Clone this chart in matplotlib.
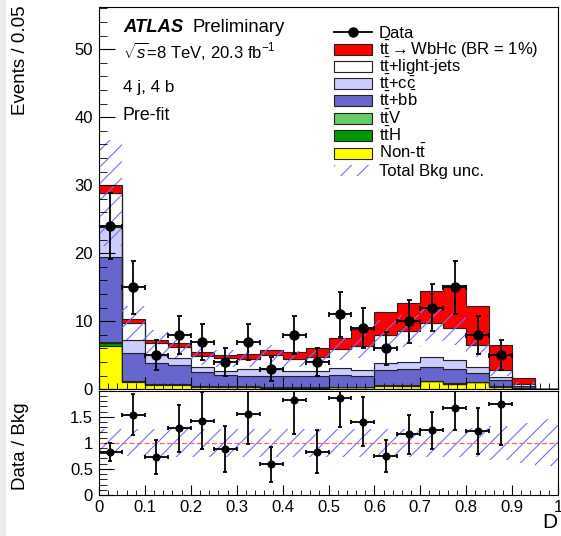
import numpy as np
import matplotlib.pyplot as plt
from matplotlib.patches import Rectangle
from matplotlib.lines import Line2D
from matplotlib.ticker import MultipleLocator

plt.rcParams['font.family'] = ['Liberation Sans', 'DejaVu Sans']
plt.rcParams['mathtext.fontset'] = 'custom'
plt.rcParams['mathtext.rm'] = 'Liberation Sans'
plt.rcParams['mathtext.it'] = 'Liberation Sans:italic'
plt.rcParams['mathtext.bf'] = 'Liberation Sans:bold'
plt.rcParams['hatch.linewidth'] = 0.8

# 20 bins of width 0.05 in D
edges = np.linspace(0, 1, 21)
data = np.array([24, 15, 5, 8, 7, 4, 7, 3, 8, 4, 11, 9, 6, 10, 12, 15, 8, 5, 0, 0])
non_tt = np.array([6.4, 1.0, 0.7, 0.7, 0.4, 0.35, 0.35, 0.25, 0.25, 0.25,
                   0.3, 0.3, 0.55, 0.5, 1.15, 0.8, 1.0, 0.4, 0.1, 0.0])
tth = np.array([0.4, 0.15, 0.08, 0.06, 0.05, 0.04, 0.04, 0.04, 0.04, 0.04,
                0.04, 0.04, 0.05, 0.05, 0.05, 0.04, 0.04, 0.02, 0.01, 0.0])
ttv = np.array([0.2, 0.1, 0.05, 0.05, 0.04, 0.03, 0.03, 0.03, 0.03, 0.03,
                0.03, 0.03, 0.04, 0.04, 0.04, 0.03, 0.03, 0.02, 0.01, 0.0])
tt_bb = np.array([12.5, 4.05, 2.97, 2.76, 2.11, 1.68, 1.54, 1.63, 1.58, 1.63,
                  1.73, 1.53, 2.16, 2.41, 1.99, 2.13, 1.38, 0.98, 0.33, 0.0])
tt_cc = np.array([4.3, 1.9, 1.2, 0.99, 0.73, 0.64, 0.98, 0.99, 0.75, 0.75,
                  0.99, 0.9, 1.02, 1.06, 1.47, 1.3, 0.85, 0.38, 0.1, 0.0])
tt_light = np.array([5.1, 2.55, 1.86, 1.71, 1.57, 1.82, 1.55, 2.16, 1.75, 2.1,
                     2.81, 3.6, 4.18, 4.54, 5.0, 4.66, 3.2, 1.07, 0.23, 0.0])
signal = np.array([1.1, 0.65, 0.45, 0.5, 0.55, 0.5, 0.7, 0.7, 1.1, 1.2,
                   1.6, 2.5, 3.3, 4.1, 4.8, 6.3, 5.75, 3.7, 0.93, 0.0])
# relative total background uncertainty per bin
rel_unc = np.array([0.27, 0.26, 0.27, 0.27, 0.27, 0.27, 0.27, 0.27, 0.27, 0.27,
                    0.27, 0.27, 0.27, 0.27, 0.27, 0.27, 0.28, 0.32, 0.38, 0.45])

components = [
    (non_tt, '#ffff00', r'Non-$\mathrm{t\bar{t}}$'),
    (tth, '#009900', r'$\mathrm{t\bar{t}H}$'),
    (ttv, '#66cc66', r'$\mathrm{t\bar{t}V}$'),
    (tt_bb, '#6666cc', r'$\mathrm{t\bar{t}{+}b\bar{b}}$'),
    (tt_cc, '#ccccff', r'$\mathrm{t\bar{t}{+}c\bar{c}}$'),
    (tt_light, '#ffffff', r'$\mathrm{t\bar{t}}$+light-jets'),
    (signal, '#ff0000', r'$\mathrm{t\bar{t}}{\rightarrow}$WbHc (BR = 1%)'),
]
hatch_col = '#7070ff'

W, H = 561, 536
fig = plt.figure(figsize=(W / 100, H / 100), dpi=100)
fig.patches.append(Rectangle((0, 0), 6 / W, 1, transform=fig.transFigure,
                             facecolor='#ebebeb', edgecolor='none', zorder=-10))


def fig_box(x0, y_top, x1, y_bot):
    return [x0 / W, 1 - y_bot / H, (x1 - x0) / W, (y_bot - y_top) / H]


ax = fig.add_axes(fig_box(99, 7, 558, 389.3))
rax = fig.add_axes(fig_box(99, 390.7, 558, 495))

# stacked predictions
bottom = np.zeros(20)
for vals, col, _ in components:
    top = bottom + vals
    ax.stairs(top, edges, baseline=bottom, fill=True, facecolor=col,
              edgecolor='#222222', linewidth=0.8)
    bottom = top

bkg = non_tt + tth + ttv + tt_bb + tt_cc + tt_light
ax.stairs(bkg * (1 + rel_unc), edges, baseline=bkg * (1 - rel_unc), fill=True,
          facecolor='none', edgecolor=hatch_col, hatch='//', linewidth=0)

centers = 0.5 * (edges[:-1] + edges[1:])
sel = data > 0
ax.errorbar(centers[sel], data[sel], yerr=np.sqrt(data[sel]), xerr=0.025,
            fmt='o', color='black', markersize=6.5, elinewidth=1.3,
            capsize=1.8, capthick=1.3, zorder=5)

ax.set_xlim(0, 1)
ax.set_ylim(0, 56.2)
ax.xaxis.set_major_locator(MultipleLocator(0.1))
ax.xaxis.set_minor_locator(MultipleLocator(0.02))
ax.yaxis.set_major_locator(MultipleLocator(10))
ax.yaxis.set_minor_locator(MultipleLocator(2))
ax.tick_params(axis='x', which='both', direction='in', labelbottom=False)
ax.tick_params(axis='x', which='major', length=9)
ax.tick_params(axis='x', which='minor', length=4.5)
ax.tick_params(axis='y', which='major', direction='in', length=11.5,
               labelsize=12, pad=4.3)
ax.tick_params(axis='y', which='minor', direction='in', length=5.8)

# ratio panel
ratio = np.where(bkg > 0, data / np.where(bkg > 0, bkg, 1), 0)
rerr = np.sqrt(data) / np.where(bkg > 0, bkg, 1)
rax.stairs(1 + rel_unc, edges, baseline=1 - rel_unc, fill=True,
           facecolor='none', edgecolor=hatch_col, hatch='//', linewidth=0)
rax.axhline(1, color='#ff6060', linestyle='--', linewidth=0.9, dashes=(4, 2))
rax.errorbar(centers[sel], ratio[sel], yerr=rerr[sel], xerr=0.025,
             fmt='o', color='black', markersize=4.8, elinewidth=1.3,
             capsize=1.5, capthick=1.3, zorder=5)
rax.set_xlim(0, 1)
rax.set_ylim(0, 2.0)
rax.set_xticks(np.arange(0, 1.01, 0.1))
rax.set_xticklabels(['0', '0.1', '0.2', '0.3', '0.4', '0.5', '0.6', '0.7',
                     '0.8', '0.9', '1'])
rax.xaxis.set_minor_locator(MultipleLocator(0.02))
rax.set_yticks([0, 0.5, 1, 1.5])
rax.set_yticklabels(['0', '0.5', '1', '1.5'])
rax.yaxis.set_minor_locator(MultipleLocator(0.1))
rax.tick_params(axis='x', which='major', direction='in', length=7,
                labelsize=12, pad=3.5)
rax.tick_params(axis='x', which='minor', direction='in', length=3.8)
rax.tick_params(axis='y', which='major', direction='in', length=11,
                labelsize=12, pad=4.3)
rax.tick_params(axis='y', which='minor', direction='in', length=5.5)

for a in (ax, rax):
    for s in a.spines.values():
        s.set_linewidth(0.8)

# axis titles
fig.text(21 / W, 1 - 5 / H, 'Events / 0.05', rotation=90, ha='center',
         va='top', fontsize=13.5)
fig.text(21 / W, 1 - 446 / H, 'Data / Bkg', rotation=90, ha='center',
         va='center', fontsize=13.5)
fig.text(557 / W, 1 - 522 / H, 'D', ha='right', va='center', fontsize=15)


def axfrac(px, py):
    return (px - 99) / 459, (389.3 - py) / 382.3


# labels
ax.text(*axfrac(123, 31.5), 'ATLAS', transform=ax.transAxes, fontsize=13.3,
        fontweight='bold', fontstyle='italic', va='baseline')
ax.text(*axfrac(193, 31.5), 'Preliminary', transform=ax.transAxes,
        fontsize=13.3, va='baseline')
ax.text(*axfrac(123, 58), r'$\sqrt{s}$=8 TeV, 20.3 fb$^{-1}$',
        transform=ax.transAxes, fontsize=12, va='baseline')
ax.text(*axfrac(123, 92), '4 j, 4 b', transform=ax.transAxes, fontsize=12.3,
        va='baseline')
ax.text(*axfrac(123, 119.5), 'Pre-fit', transform=ax.transAxes, fontsize=12.8,
        va='baseline')

# legend
rows = [32.3, 49.3, 66.3, 83.3, 100.3, 118.0, 135.5, 153.0, 170.5]
box_x0, box_x1, txt_x = 334, 372, 379
lx0, _ = axfrac(box_x0, 0)
lx1, _ = axfrac(box_x1, 0)
bh = 11 / 382.3

_, yd = axfrac(0, rows[0])
ax.add_line(Line2D([lx0, lx1], [yd, yd], transform=ax.transAxes,
                   color='black', linewidth=1.3))
ax.plot([(lx0 + lx1) / 2], [yd], 'o', color='black', markersize=6.5,
        transform=ax.transAxes)
ax.text(*axfrac(txt_x, rows[0] + 5.5), 'Data', transform=ax.transAxes,
        fontsize=12, va='baseline')

for py, (vals, col, lab) in zip(rows[1:8], components[::-1]):
    _, yc = axfrac(0, py)
    ax.add_patch(Rectangle((lx0, yc - bh / 2), lx1 - lx0, bh,
                           transform=ax.transAxes, facecolor=col,
                           edgecolor='#222222', linewidth=0.8))
    ax.text(*axfrac(txt_x, py + 5.5), lab, transform=ax.transAxes,
            fontsize=12, va='baseline')

_, yc = axfrac(0, rows[8])
ax.add_patch(Rectangle((lx0, yc - bh / 2), lx1 - lx0, bh,
                       transform=ax.transAxes, facecolor='none',
                       edgecolor=hatch_col, hatch='//', linewidth=0))
ax.text(*axfrac(txt_x, rows[8] + 5.5), 'Total Bkg unc.',
        transform=ax.transAxes, fontsize=12, va='baseline')

fig.savefig('out.png', dpi=100)
